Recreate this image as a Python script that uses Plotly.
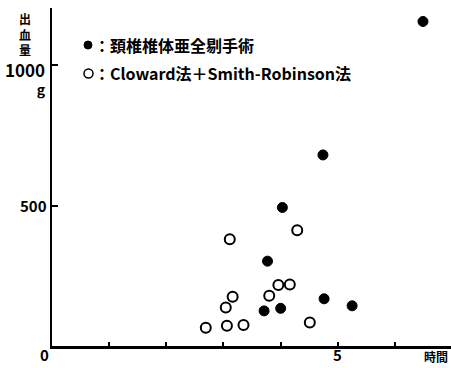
import plotly.graph_objects as go

# 頚椎椎体亜全剔手術 (filled)
filled_hours = [6.49, 4.74, 4.03, 3.77, 4.76, 5.25, 3.71, 4.00]
filled_blood = [1155, 680, 493, 302, 168, 143, 125, 134]

# Cloward法＋Smith-Robinson法 (open)
open_hours = [3.11, 4.29, 3.96, 4.16, 3.80, 3.16, 3.04, 2.69, 3.06, 3.35, 4.51]
open_blood = [380, 412, 217, 219, 179, 175, 137, 65, 72, 75, 84]

x_ticks = [1, 2, 3, 4, 5, 6]
y_ticks = [500, 1000]

legend_filled = "：頚椎椎体亜全剔手術"
legend_open = "：Cloward法＋Smith-Robinson法"
y_title_chars = ["出", "血", "量"]
x_title = "時間"

FONT = "Noto Sans CJK JP"

fig = go.Figure()
fig.add_trace(go.Scatter(
    x=filled_hours, y=filled_blood, mode="markers",
    marker=dict(symbol="circle", size=10, color="black",
                line=dict(color="black", width=1)),
    showlegend=False, cliponaxis=False))
fig.add_trace(go.Scatter(
    x=open_hours, y=open_blood, mode="markers",
    marker=dict(symbol="circle-open", size=10, color="black",
                line=dict(color="black", width=2)),
    showlegend=False, cliponaxis=False))

fig.update_layout(
    width=451, height=368,
    margin=dict(l=52, r=0, t=8, b=22),
    paper_bgcolor="white", plot_bgcolor="white",
    font=dict(family=FONT, color="black"),
    xaxis=dict(range=[0, 6.98], showgrid=False, zeroline=False,
               showline=True, linecolor="black", linewidth=3,
               ticks="inside", ticklen=4, tickwidth=1.5, tickcolor="black",
               tickvals=x_ticks, showticklabels=False, fixedrange=True),
    yaxis=dict(range=[0, 1203], showgrid=False, zeroline=False,
               showline=True, linecolor="black", linewidth=2,
               ticks="inside", ticklen=6, tickwidth=1.5, tickcolor="black",
               tickvals=y_ticks, showticklabels=False, fixedrange=True),
)

ann = []
# tick labels
ann.append(dict(x=0, y=1000, xref="x", yref="y",
                text="<b><span style='font-size:17px'>1000</span></b><br><b>g</b>",
                showarrow=False, align="right",
                xanchor="right", yanchor="middle", xshift=-4, yshift=-13,
                font=dict(size=14, family=FONT)))
ann.append(dict(x=0, y=500, xref="x", yref="y", text="<b>500</b>", showarrow=False,
                xanchor="right", yanchor="middle", xshift=-3,
                font=dict(size=15, family=FONT)))
ann.append(dict(x=0, y=0, xref="x", yref="y", text="<b>0</b>", showarrow=False,
                xanchor="right", yanchor="middle", xshift=-1, yshift=-8,
                font=dict(size=15, family=FONT)))
ann.append(dict(x=5, y=0, xref="x", yref="y", text="<b>5</b>", showarrow=False,
                xanchor="center", yanchor="middle", yshift=-8,
                font=dict(size=15, family=FONT)))
ann.append(dict(x=1, y=0, xref="paper", yref="y", text="<b>" + x_title + "</b>", showarrow=False,
                xanchor="right", yanchor="middle", xshift=-1, yshift=-10,
                font=dict(size=12, family=FONT)))
# vertical y title
ann.append(dict(x=0, y=1, xref="paper", yref="paper",
                text="<br>".join("<b>" + ch + "</b>" for ch in y_title_chars),
                showarrow=False, xanchor="center", yanchor="top",
                xshift=-27, yshift=0,
                font=dict(size=12, family=FONT)))

# legend text
ann.append(dict(x=0, y=1, xref="paper", yref="paper", text="<b>" + legend_filled + "</b>",
                showarrow=False, xanchor="left", yanchor="middle", xshift=40, yshift=-37,
                font=dict(size=16, family=FONT)))
ann.append(dict(x=0, y=1, xref="paper", yref="paper", text="<b>" + legend_open + "</b>",
                showarrow=False, xanchor="left", yanchor="middle", xshift=40, yshift=-65,
                font=dict(size=16, family=FONT)))
fig.update_layout(annotations=ann)

# legend markers
fig.add_shape(type="circle", xref="paper", yref="paper",
              x0=(84 - 52) / 399, x1=(92 - 52) / 399,
              y0=(346 - 49) / 338, y1=(346 - 41) / 338,
              fillcolor="black", line=dict(color="black", width=1))
fig.add_shape(type="circle", xref="paper", yref="paper",
              x0=(84 - 52) / 399, x1=(93 - 52) / 399,
              y0=(346 - 78) / 338, y1=(346 - 69) / 338,
              fillcolor="white", line=dict(color="black", width=1.5))

fig.write_html("out.html", config={"displayModeBar": False},
               post_script="document.body.style.margin='0';document.body.style.overflow='hidden';")
